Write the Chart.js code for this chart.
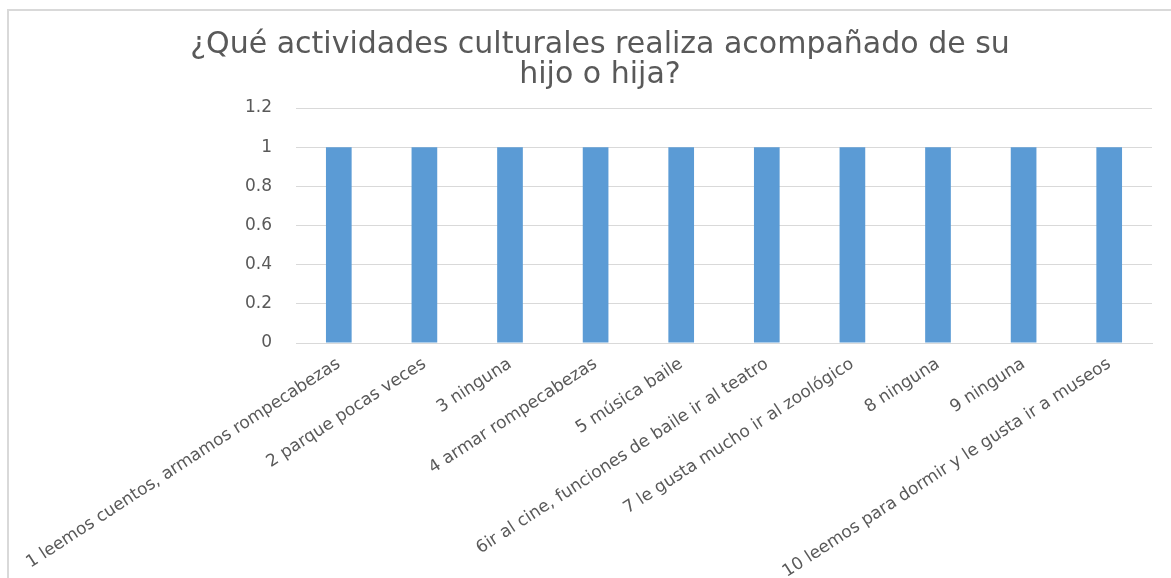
<!DOCTYPE html>
<html>
<head>
<meta charset="utf-8">
<script src="https://cdn.jsdelivr.net/npm/chart.js@4.4.1/dist/chart.umd.min.js"></script>
<style>
  html, body { margin: 0; padding: 0; background: #ffffff; overflow: hidden; }
  #frame { position: absolute; left: 7px; top: 9px; width: 1200px; height: 620px; border: 2px solid #d9d9d9; box-sizing: border-box; }
  #wrap { position: absolute; left: 0; top: 0; width: 1171px; height: 578px; }
</style>
</head>
<body>
<div id="frame"></div>
<div id="wrap"><canvas id="c"></canvas></div>
<script>
const titleLines = ['¿Qué actividades culturales realiza acompañado de su', 'hijo o hija?'];
const categories = [
  '1 leemos cuentos, armamos rompecabezas',
  '2 parque pocas veces',
  '3 ninguna',
  '4 armar rompecabezas',
  '5 música baile',
  '6ir al cine, funciones de baile ir al teatro',
  '7 le gusta mucho ir al zoológico',
  '8 ninguna',
  '9 ninguna',
  '10 leemos para dormir y le gusta ir a museos'
];
const values = [1, 1, 1, 1, 1, 1, 1, 1, 1, 1];
const yTickLabels = ['0', '0.2', '0.4', '0.6', '0.8', '1', '1.2'];

const textColor = '#595959';
const gridColor = '#d9d9d9';
const fontFamily = '"DejaVu Sans", sans-serif';

new Chart(document.getElementById('c'), {
  type: 'bar',
  data: {
    labels: categories,
    datasets: [{
      data: values,
      backgroundColor: '#5b9bd5',
      borderWidth: 0,
      categoryPercentage: 1,
      barPercentage: 0.30
    }]
  },
  options: {
    responsive: true,
    maintainAspectRatio: false,
    animation: false,
    layout: { padding: { left: 48, right: 19, top: 30, bottom: 0 } },
    plugins: {
      legend: { display: false },
      tooltip: { enabled: false },
      title: {
        display: true,
        text: titleLines,
        color: textColor,
        font: { family: fontFamily, size: 30, weight: 'normal', lineHeight: '30px' },
        padding: { top: 0, bottom: 18 }
      }
    },
    scales: {
      x: {
        grid: { display: false, drawTicks: false },
        border: { display: true, color: gridColor, width: 1 },
        ticks: {
          autoSkip: false,
          minRotation: 33,
          maxRotation: 33,
          padding: 11,
          color: textColor,
          font: { family: fontFamily, size: 17 }
        },
        afterFit: (s) => { s.height = 235; s.paddingLeft = 0; s.paddingRight = 0; }
      },
      y: {
        min: 0,
        max: 1.2,
        grid: { color: gridColor, lineWidth: 1, drawTicks: false },
        border: { display: false },
        ticks: {
          stepSize: 0.2,
          padding: 24,
          color: textColor,
          font: { family: fontFamily, size: 17 },
          callback: (v, i) => yTickLabels[i]
        },
        afterFit: (s) => { s.width = 248; s.paddingTop = 0; s.paddingBottom = 0; }
      }
    }
  }
});
</script>
</body>
</html>
